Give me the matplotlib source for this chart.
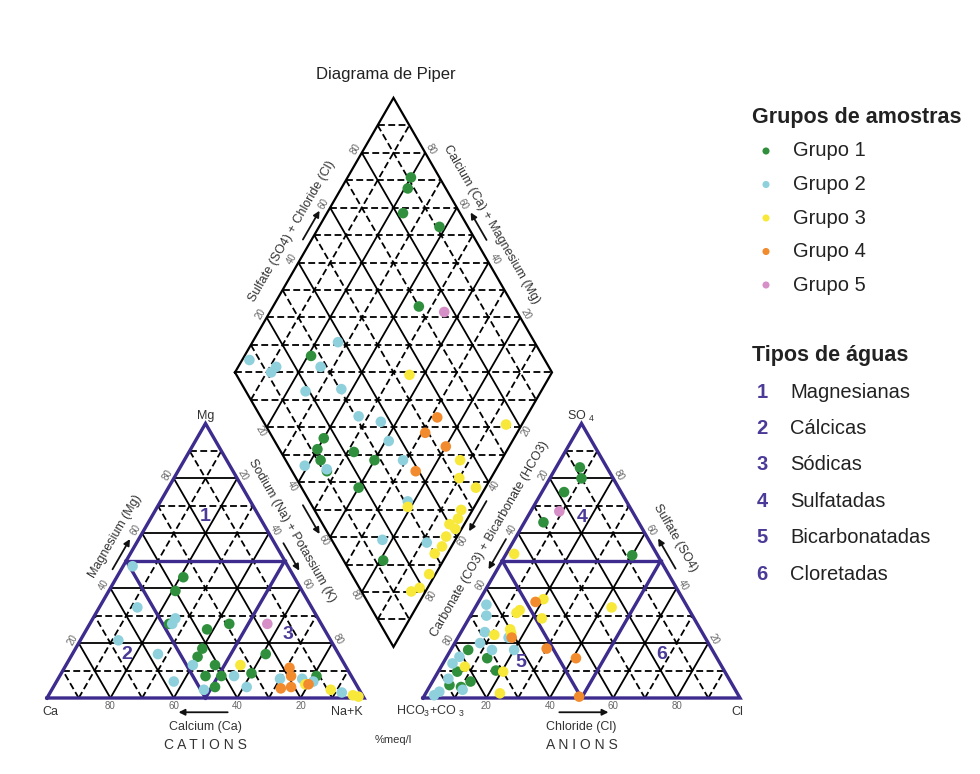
import numpy as np
import matplotlib
matplotlib.use("Agg")
import matplotlib.pyplot as plt

plt.rcParams["font.family"] = ["Liberation Sans", "DejaVu Sans"]
plt.rcParams["mathtext.fontset"] = "custom"
plt.rcParams["mathtext.rm"] = "Liberation Sans"
plt.rcParams["mathtext.default"] = "regular"

# ---------------------------------------------------------------------------
# Sample groups (values in % of meq/l)
# ---------------------------------------------------------------------------
groups = ["Grupo 1", "Grupo 2", "Grupo 3", "Grupo 4", "Grupo 5"]
colors = ["#2f8f3c", "#8fd0dd", "#f7e83a", "#f28a2e", "#d78fc7"]

# Cation triangle: Mg and Na+K (Ca is the remainder)
cat_mg = [
    [44, 39, 27, 27, 25, 18, 15, 12, 8, 8, 4, 9, 16, 8],
    [48, 33, 29, 27, 21, 16, 6, 12, 3, 8, 4, 7, 7, 6, 2],
    [12, 3, 1, 0.5, 5],
    [11, 8, 3.5, 4, 5],
    [27],
]
cat_nak = [
    [21, 21, 25, 44, 38, 40, 40, 47, 46, 51, 51, 60, 61, 81],
    [3, 12, 26, 26, 12, 27, 37, 40, 48, 55, 61, 70, 77, 81, 92],
    [55, 88, 96, 98, 79],
    [71, 73, 72, 75, 80],
    [56],
]

# Anion triangle: SO4 and Cl (HCO3+CO3 is the remainder)
an_so4 = [
    [84, 80, 75, 64, 52, 17.5, 14.5, 10, 9.6, 6, 4.7, 4],
    [34, 30, 24, 20, 17.5, 22, 17.5, 15, 7, 3, 2.3, 1, 12.6],
    [52.5, 36, 32, 29, 25, 23.6, 23, 33, 9.6, 11.4, 1.7, 31],
    [35, 22, 18, 14.5, 0.5],
    [68],
]
an_cl = [
    [7.5, 10, 7, 6, 40, 5.5, 13, 18, 6, 12, 6, 10],
    [3, 5, 7.5, 8, 13, 16, 20, 4, 4.5, 11, 4, 3, 3],
    [2.5, 20, 14.5, 23, 15, 16, 11, 43, 20.5, 7.5, 23.4, 14],
    [18, 17, 30, 41, 49],
    [9],
]

# Central diamond: Na+K and SO4+Cl
dia_nak = [
    [20, 21, 24, 38, 46, 21, 40, 40, 43, 47, 52, 60, 60, 81],
    [2.3, 12, 11.4, 27, 26, 25.7, 36.6, 47, 55, 61, 39, 46.6, 69, 78, 77, 91.5],
    [55.5, 95, 87, 90, 97, 96.4, 97, 95.3, 98, 96.5, 97, 96, 98, 97.5, 95.5, 79],
    [72, 71, 80, 75],
    [55],
]
dia_so4cl = [
    [91, 88, 82, 91, 70, 27, 16, 12, 11, 11, 23, 28, 18, 12.5],
    [6.8, 14, 11.4, 38, 28, 18.8, 30.5, 31, 37, 36, 5, 11.3, 37, 31, 16, 29.5],
    [54.6, 76, 55, 51.5, 55, 46.3, 43.7, 40, 41, 36.7, 33.6, 30, 24.5, 19, 15.7, 30],
    [55.6, 49, 53, 39],
    [77],
]

water_types = ["Magnesianas", "Cálcicas", "Sódicas", "Sulfatadas",
               "Bicarbonatadas", "Cloretadas"]

# ---------------------------------------------------------------------------
# Geometry (side of each triangle = 1 unit)
# ---------------------------------------------------------------------------
H = np.sqrt(3) / 2
GAP = 59 / 317
CAT0 = 0.0
AN0 = 1 + GAP
DBX, DBY = 1 + GAP / 2, GAP * H          # bottom vertex of the diamond
DLX, DLY = DBX - 0.5, DBY + H            # left vertex of the diamond


def cat_xy(mg, nak):
    mg = np.asarray(mg, float) / 100
    nak = np.asarray(nak, float) / 100
    return CAT0 + nak + mg / 2, mg * H


def an_xy(so4, cl):
    so4 = np.asarray(so4, float) / 100
    cl = np.asarray(cl, float) / 100
    return AN0 + cl + so4 / 2, so4 * H


def dia_xy(nak, a):
    nak = np.asarray(nak, float) / 100
    a = np.asarray(a, float) / 100
    return DLX + 0.5 * (nak + a), DLY + H * (a - nak)


PX = 317.0
fig = plt.figure(figsize=(9.8, 7.74), dpi=100)
ax = fig.add_axes([0, 0, 1, 1])
ax.set_xlim(-47 / PX, (980 - 47) / PX)
ax.set_ylim(-(774 - 698) / PX, 698 / PX)
ax.axis("off")


def px(x, y):
    return (x - 47) / PX, (698 - y) / PX


solid_kw = dict(color="black", lw=1.3, solid_capstyle="butt", zorder=2)
dash_kw = dict(color="black", lw=1.3, linestyle=(0, (3.8, 1.9)), zorder=2)
purple = "#3d2b8e"
tick_kw = dict(fontsize=7, color="#666666", ha="center", va="center",
               rotation_mode="anchor")
title_kw = dict(fontsize=9, color="#333333", ha="center", va="center",
                rotation_mode="anchor")
arrow_props = dict(arrowstyle="-|>", lw=1.3, color="#111111",
                   mutation_scale=9, shrinkA=0, shrinkB=0)


def seg(p0, p1, **kw):
    ax.plot([p0[0], p1[0]], [p0[1], p1[1]], **kw)


# ---- triangle grids ------------------------------------------------------
def triangle(ox):
    for k in range(1, 10):
        t = k / 10
        kw = solid_kw if k % 2 == 0 else dash_kw
        seg((ox + t / 2, t * H), (ox + 1 - t / 2, t * H), **kw)
        seg((ox + 1 - t, 0), (ox + (1 - t) / 2, (1 - t) * H), **kw)
        seg((ox + t, 0), (ox + t + (1 - t) / 2, (1 - t) * H), **kw)
    pk = dict(color=purple, lw=2.4, zorder=3, solid_joinstyle="miter")
    ax.plot([ox, ox + 1, ox + 0.5, ox], [0, 0, H, 0], **pk)
    seg((ox + 0.25, 0.5 * H), (ox + 0.75, 0.5 * H), **pk)
    seg((ox + 0.5, 0), (ox + 0.25, 0.5 * H), **pk)
    seg((ox + 0.5, 0), (ox + 0.75, 0.5 * H), **pk)


triangle(CAT0)
triangle(AN0)

# ---- diamond grid --------------------------------------------------------
for k in range(1, 10):
    t = k * 10
    kw = solid_kw if k % 2 == 0 else dash_kw
    ax.plot(*dia_xy([0, 100], [t, t]), **kw)
    ax.plot(*dia_xy([t, t], [0, 100]), **kw)
for k in range(-9, 10):
    d = k * 10
    if d >= 0:
        xs, ys = dia_xy([0, 100 - d], [d, 100])
    else:
        xs, ys = dia_xy([-d, 100], [0, 100 + d])
    ax.plot(xs, ys, **dash_kw)
ax.plot(*dia_xy([0, 100, 100, 0, 0], [0, 0, 100, 100, 0]),
        color="black", lw=1.6, zorder=3, solid_joinstyle="miter")

# ---- tick labels ---------------------------------------------------------
OFF = 0.022
n_ul = np.array([-H, 0.5])
n_ur = np.array([H, 0.5])
n_ll = np.array([-H, -0.5])
n_lr = np.array([H, -0.5])
for v in (20, 40, 60, 80):
    t = v / 100
    # cation triangle
    ax.text(CAT0 + 1 - t, -0.026, str(v), **tick_kw)
    x, y = cat_xy(v, 0)
    ax.text(x + n_ul[0] * OFF, y + n_ul[1] * OFF, str(v), rotation=60, **tick_kw)
    x, y = cat_xy(100 - v, v)
    ax.text(x + n_ur[0] * OFF, y + n_ur[1] * OFF, str(v), rotation=-60, **tick_kw)
    # anion triangle
    ax.text(AN0 + t, -0.026, str(v), **tick_kw)
    x, y = an_xy(100 - v, 0)
    ax.text(x + n_ul[0] * OFF, y + n_ul[1] * OFF, str(v), rotation=60, **tick_kw)
    x, y = an_xy(v, 100 - v)
    ax.text(x + n_ur[0] * OFF, y + n_ur[1] * OFF, str(v), rotation=-60, **tick_kw)
    # diamond
    x, y = dia_xy(0, v)
    ax.text(x + n_ul[0] * OFF, y + n_ul[1] * OFF, str(v), rotation=60, **tick_kw)
    x, y = dia_xy(100 - v, 100)
    ax.text(x + n_ur[0] * OFF, y + n_ur[1] * OFF, str(v), rotation=-60, **tick_kw)
    x, y = dia_xy(v, 0)
    ax.text(x + n_ll[0] * OFF, y + n_ll[1] * OFF, str(v), rotation=-60, **tick_kw)
    x, y = dia_xy(100, 100 - v)
    ax.text(x + n_lr[0] * OFF, y + n_lr[1] * OFF, str(v), rotation=60, **tick_kw)


# ---- axis titles and arrows ---------------------------------------------
def edge_point(p0, p1, f):
    return np.array(p0) + f * (np.array(p1) - np.array(p0))


def arrow(p0, p1, f0, f1, normal, d=0.024):
    a = edge_point(p0, p1, f0) + normal * d
    b = edge_point(p0, p1, f1) + normal * d
    ax.annotate("", xy=b, xytext=a, arrowprops=arrow_props, zorder=4)


def edge_title(p0, p1, f, normal, text, rot, d=0.068):
    p = edge_point(p0, p1, f) + normal * d
    ax.text(p[0], p[1], text, rotation=rot, **title_kw)


cA, cB, cT = (CAT0, 0), (CAT0 + 1, 0), (CAT0 + 0.5, H)
aA, aB, aT = (AN0, 0), (AN0 + 1, 0), (AN0 + 0.5, H)
dL, dB = (DLX, DLY), (DBX, DBY)
dT, dR = (DBX, DBY + 2 * H), (DBX + 0.5, DLY)

edge_title(cA, cT, 0.55, n_ul, "Magnesium (Mg)", 60)
arrow(cA, cT, 0.455, 0.565, n_ul)
edge_title(cT, cB, 0.43, n_ur, "Sodium (Na) + Potassium (K)", -60)
arrow(cT, cB, 0.45, 0.55, n_ur)
arrow(dL, dB, 0.47, 0.575, n_ll)

edge_title(aB, aT, 0.54, n_ur, "Sulfate (SO4)", -60, d=0.075)
arrow(aB, aT, 0.455, 0.565, n_ur, d=0.028)
edge_title(aT, aA, 0.46, n_ul, "Carbonate (CO3) + Bicarbonate (HCO3)", 60)
arrow(aT, aA, 0.435, 0.545, n_ul)
arrow(dR, dB, 0.455, 0.565, n_lr)

edge_title(dL, dT, 0.475, n_ul, "Sulfate (SO4) + Chloride (Cl)", 60)
arrow(dL, dT, 0.47, 0.575, n_ul)
edge_title(dT, dR, 0.5, n_ur, "Calcium (Ca) + Magnesium (Mg)", -60)
arrow(dT, dR, 0.535, 0.435, n_ur, d=0.03)

# bottom axis names, with arrows between the tick labels
ax.text(CAT0 + 0.5, -0.09, "Calcium (Ca)", **title_kw)
ax.annotate("", xy=(CAT0 + 0.415, -0.045), xytext=(CAT0 + 0.57, -0.045),
            arrowprops=arrow_props)
ax.text(AN0 + 0.5, -0.09, "Chloride (Cl)", **title_kw)
ax.annotate("", xy=(AN0 + 0.585, -0.045), xytext=(AN0 + 0.43, -0.045),
            arrowprops=arrow_props)

corner_kw = dict(fontsize=9, color="#333333", ha="center", va="center")
ax.text(CAT0 + 0.01, -0.044, "Ca", **corner_kw)
ax.text(CAT0 + 0.946, -0.044, "Na+K", **corner_kw)
ax.text(CAT0 + 0.5, H + 0.022, "Mg", **corner_kw)
ax.text(AN0 + 0.025, -0.044, r"HCO$_3$+CO $_3$", **corner_kw)
ax.text(AN0 + 0.99, -0.044, "Cl", **corner_kw)
ax.text(AN0 + 0.5, H + 0.022, r"SO $_4$", **corner_kw)
ax.text(CAT0 + 0.5, -0.148, "C A T I O N S", fontsize=10, color="#333333",
        ha="center", va="center")
ax.text(AN0 + 0.5, -0.148, "A N I O N S", fontsize=10, color="#333333",
        ha="center", va="center")
ax.text(DBX, -0.132, "%meq/l", fontsize=8, color="#333333",
        ha="center", va="center")

# ---- water-type region numbers ------------------------------------------
num_kw = dict(fontsize=14, fontweight="bold", color="#4b3a98",
              ha="center", va="center", zorder=3)
ax.text(*cat_xy(66, 17), "1", **num_kw)
ax.text(*cat_xy(16, 17), "2", **num_kw)
ax.text(*cat_xy(23, 64.5), "3", **num_kw)
ax.text(*an_xy(65.6, 17.4), "4", **num_kw)
ax.text(*an_xy(12.8, 24.5), "5", **num_kw)
ax.text(*an_xy(16, 67.4), "6", **num_kw)

# ---- samples -------------------------------------------------------------
for i, c in enumerate(colors):
    ax.scatter(*cat_xy(cat_mg[i], cat_nak[i]), s=58, color=c,
               edgecolors="none", zorder=5)
    ax.scatter(*an_xy(an_so4[i], an_cl[i]), s=58, color=c,
               edgecolors="none", zorder=5)
    ax.scatter(*dia_xy(dia_nak[i], dia_so4cl[i]), s=58, color=c,
               edgecolors="none", zorder=5)

# ---- title ---------------------------------------------------------------
ax.text(*px(386, 75), "Diagrama de Piper", fontsize=12, color="#222222",
        ha="center", va="center")

# ---- legend --------------------------------------------------------------
ax.text(*px(752, 118), "Grupos de amostras", fontsize=15.5, fontweight="bold",
        color="#222222", ha="left", va="center")
for i, (g, c) in enumerate(zip(groups, colors)):
    y = 151 + i * 33.5
    ax.scatter(*px(766, y), s=26, color=c, edgecolors="none")
    ax.text(*px(793, y), g, fontsize=14.5, color="#222222",
            ha="left", va="center")

ax.text(*px(752, 355), "Tipos de águas", fontsize=15.5, fontweight="bold",
        color="#222222", ha="left", va="center")
for i, w in enumerate(water_types):
    y = 392 + i * 36.4
    ax.text(*px(762, y), str(i + 1), fontsize=14.5, fontweight="bold",
            color="#4b3a98", ha="center", va="center")
    ax.text(*px(790, y), w, fontsize=14.5, color="#222222",
            ha="left", va="center")

fig.savefig("out.png", dpi=100, facecolor="white")
